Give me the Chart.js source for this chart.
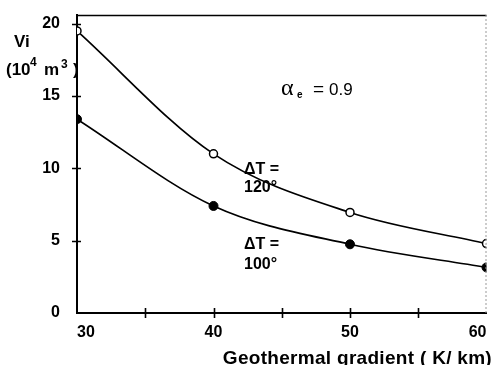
<!DOCTYPE html>
<html>
<head>
<meta charset="utf-8">
<script src="https://cdn.jsdelivr.net/npm/chart.js@4.4.1/dist/chart.umd.min.js"></script>
<style>
  html, body { margin: 0; padding: 0; background: #fff; }
  #wrap { width: 492px; height: 365px; position: relative; }
</style>
</head>
<body>
<div id="wrap"><canvas id="chart"></canvas></div>
<script>
// geothermal gradient (K/km) and volume Vi (10^4 m^3)
const gradients = [30, 40, 50, 60];
const vol120 = [19.5, 11.0, 6.95, 4.8];
const vol100 = [13.4, 7.4, 4.75, 3.15];
const yTicks = [0, 5, 10, 15, 20];
const xTicks = [30, 35, 40, 45, 50, 55, 60];
const xLabels = [30, 40, 50, 60];

const SANS = '"Liberation Sans", Arial, sans-serif';
const SERIF = '"Liberation Serif", "Times New Roman", serif';

function pts(ys) {
  return gradients.map((x, i) => ({ x: x, y: ys[i] }));
}

// axes ticks that cross the axis line, frame and text notes
const decor = {
  id: 'decor',
  afterDraw(chart) {
    const { ctx, chartArea: a, scales: { x, y } } = chart;
    ctx.save();
    ctx.strokeStyle = '#000';
    ctx.lineWidth = 1.6;
    ctx.beginPath();
    yTicks.filter(v => v > 0).forEach(v => {
      const py = Math.round(y.getPixelForValue(v)) + 0.5;
      ctx.moveTo(a.left - 5, py); ctx.lineTo(a.left + 4, py);
    });
    xTicks.filter(v => v > 30 && v < 60).forEach(v => {
      const px = Math.round(x.getPixelForValue(v)) + 0.5;
      ctx.moveTo(px, a.bottom - 5); ctx.lineTo(px, a.bottom + 5);
    });
    ctx.stroke();

    // top frame
    ctx.lineWidth = 1.5;
    ctx.beginPath();
    ctx.moveTo(a.left, a.top + 0.5); ctx.lineTo(a.right, a.top + 0.5);
    ctx.stroke();
    // faint right frame
    ctx.strokeStyle = '#999';
    ctx.lineWidth = 1;
    ctx.setLineDash([2, 2]);
    ctx.beginPath();
    ctx.moveTo(a.right - 0.5, a.top); ctx.lineTo(a.right - 0.5, a.bottom);
    ctx.stroke();
    ctx.setLineDash([]);

    ctx.fillStyle = '#000';
    ctx.textBaseline = 'alphabetic';
    ctx.textAlign = 'left';

    // y title
    ctx.font = 'bold 17px ' + SANS;
    ctx.fillText('Vi', 14, 47);
    ctx.fillText('(10', 6, 75);
    ctx.fillText('m', 44, 75);
    ctx.fillText(')', 73, 75);
    ctx.font = 'bold 12px ' + SANS;
    ctx.fillText('4', 30, 66);
    ctx.fillText('3', 61, 68);

    // x title
    ctx.font = 'bold 19px ' + SANS;
    ctx.textAlign = 'right';
    if ('letterSpacing' in ctx) ctx.letterSpacing = '0.3px';
    ctx.fillText('Geothermal gradient ( K/ km)', 492, 364);
    if ('letterSpacing' in ctx) ctx.letterSpacing = '0px';

    // alpha_e note
    ctx.textAlign = 'left';
    ctx.font = '24px ' + SERIF;
    ctx.fillText('\u03b1', 281, 95);
    ctx.font = 'bold 10px ' + SANS;
    ctx.fillText('e', 297, 98);
    ctx.font = '19px ' + SANS;
    ctx.fillText('=', 313, 95);
    ctx.font = '17px ' + SANS;
    ctx.fillText('0.9', 329, 95);

    // curve labels
    ctx.font = 'bold 16px ' + SANS;
    ctx.fillText('\u0394T =', 244, 174);
    ctx.fillText('120\u00b0', 244, 192);
    ctx.fillText('\u0394T =', 244, 249);
    ctx.fillText('100\u00b0', 244, 269);
    ctx.restore();
  }
};

new Chart(document.getElementById('chart'), {
  type: 'line',
  data: {
    datasets: [
      {
        label: '\u0394T = 120\u00b0',
        data: pts(vol120),
        borderColor: '#000',
        borderWidth: 1.7,
        cubicInterpolationMode: 'monotone',
        pointRadius: 4,
        pointBorderWidth: 1.5,
        pointBackgroundColor: '#fff',
        pointBorderColor: '#000'
      },
      {
        label: '\u0394T = 100\u00b0',
        data: pts(vol100),
        borderColor: '#000',
        borderWidth: 1.7,
        cubicInterpolationMode: 'monotone',
        pointRadius: 4.5,
        pointBorderWidth: 1,
        pointBackgroundColor: '#000',
        pointBorderColor: '#000'
      }
    ]
  },
  options: {
    responsive: true,
    maintainAspectRatio: false,
    animation: false,
    layout: { padding: { top: 15, right: 1, left: 0, bottom: 0 } },
    plugins: { legend: { display: false }, tooltip: { enabled: false } },
    scales: {
      x: {
        type: 'linear',
        min: 30,
        max: 60,
        afterBuildTicks: s => { s.ticks = xTicks.map(v => ({ value: v })); },
        afterFit: s => { s.height = 52; s.paddingLeft = 0; s.paddingRight = 0; },
        grid: { display: false, drawTicks: false },
        border: { display: true, color: '#000', width: 2 },
        ticks: {
          align: 'inner',
          padding: 10,
          color: '#000',
          maxRotation: 0,
          autoSkip: false,
          font: { family: SANS, size: 16, weight: 'bold' },
          callback: v => xLabels.includes(v) ? String(v) : ''
        }
      },
      y: {
        type: 'linear',
        min: 0,
        max: 20.6,
        afterBuildTicks: s => { s.ticks = yTicks.map(v => ({ value: v })); },
        afterFit: s => { s.width = 77; s.paddingTop = 0; s.paddingBottom = 0; },
        grid: { display: false, drawTicks: false },
        border: { display: true, color: '#000', width: 2 },
        ticks: {
          padding: 17,
          color: '#000',
          font: { family: SANS, size: 16, weight: 'bold' }
        }
      }
    }
  },
  plugins: [decor]
});
</script>
</body>
</html>
